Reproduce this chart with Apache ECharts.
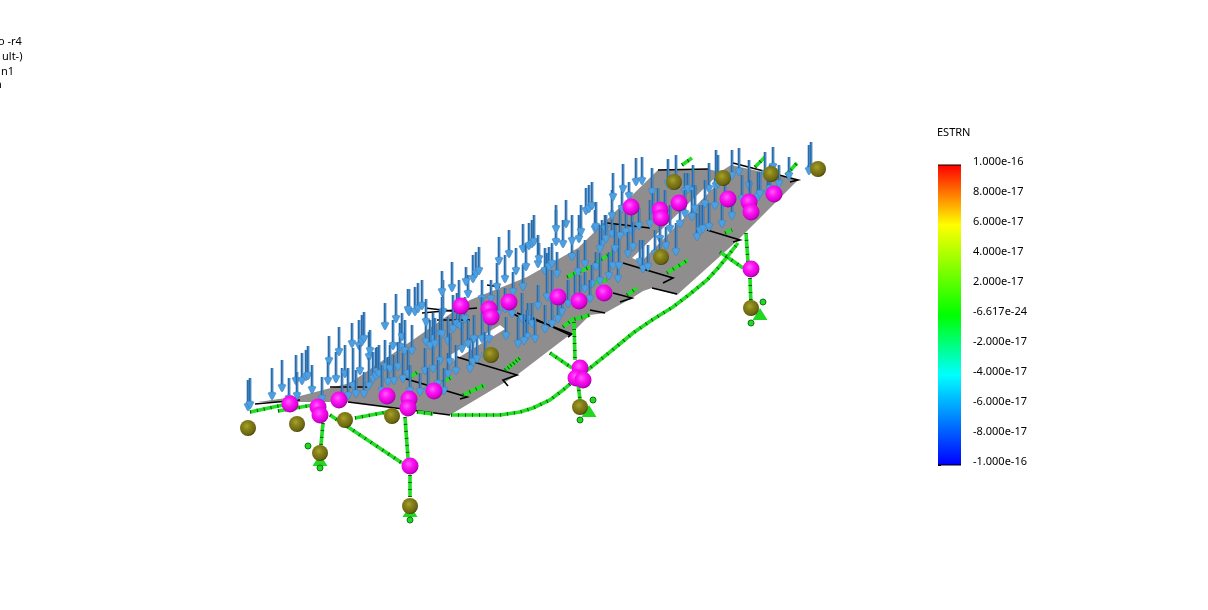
<!DOCTYPE html>
<html><head><meta charset="utf-8">
<style>html,body{margin:0;padding:0;background:#fff}#c{width:1208px;height:610px}</style>
<script src="https://cdn.jsdelivr.net/npm/echarts@6/dist/echarts.min.js"></script>
</head><body><div id="c"></div>
<script>
// Values, in picture units
const plates = [
 [[258,402],[300,396],[350,383],[420,335],[470,300],[527,277],[578,248],[658,170],[708,169],[720,172],[731,165],[798,180],[738,240],[677,295],[652,288],[643,291],[632,298],[605,313],[590,315],[572,333],[517,375],[450,415],[348,402],[300,402]]
];
const slits = [
 [[721,172],[729,172],[641,262],[632,258]],
 [[447,357],[500,325],[505,329],[453,361]]
];
const blackLines = [
 [[255,404],[300,400]],[[348,402],[450,415]],[[330,387],[370,387]],
 [[403,378],[467,397],[460,399]],[[457,357],[517,375],[503,380],[508,386]],
 [[422,313],[477,308]],[[437,320],[470,320]],[[425,308],[460,312]],[[510,312],[530,323]],
 [[487,285],[500,287]],[[517,313],[572,334],[568,337]],[[533,318],[570,335]],
 [[613,293],[632,298],[620,302]],[[590,310],[605,313]],[[623,263],[673,278],[663,283]],
 [[652,288],[677,294]],[[707,230],[740,240],[733,242]],[[658,170],[708,169]],
 [[733,163],[798,180],[790,182]],[[607,223],[650,228]]
];
const greenBeams = [
 [[451,415],[475,415],[500,415],[520,412],[533,408],[550,400],[563,390],[577,378],[590,368],[610,352],[633,333],[652,320],[673,307],[690,294],[707,280],[718,268],[727,257],[738,243]],
 [[574,322],[575,360]],[[563,327],[572,320],[590,315]],[[550,353],[572,368]],[[578,383],[580,400]],
 [[746,233],[748,262]],[[750,278],[751,305]],[[720,252],[743,268]],
 [[405,417],[408,458]],[[410,475],[410,497]],[[330,415],[402,463]],[[323,423],[321,445]],
 [[250,412],[283,405]],[[278,411],[313,405]],[[355,418],[387,412]],[[417,412],[433,414]],
 [[463,395],[485,385]],[[410,377],[418,372]],[[443,382],[452,377]],[[505,370],[520,358]],
 [[627,295],[637,288]],[[667,273],[688,260]],[[508,368],[520,358]],[[593,283],[607,280]],
 [[595,263],[612,253]],[[567,277],[590,267]],[[725,233],[732,230]],[[682,165],[692,158]],
 [[755,167],[765,157]],[[786,175],[797,163]]
];
// x, tip y, top y
const arrows = [
 [248,408,380],[250,406,378],[272,397,368],[282,389,360],[289,400,378],[296,382,355],[297,397,372],[302,382,353],[306,378,350],[308,377,346],[312,391,365],
 [322,400,377],[329,362,336],[328,382,362],[336,380,352],[339,353,327],[342,400,368],[345,375,345],[348,397,368],[352,345,323],[353,387,348],[359,347,320],[362,343,315],[364,340,312],
 [369,358,332],[369,387,358],[370,352,330],[373,380,352],[376,377,348],[377,373,347],[379,375,345],[385,327,303],[385,368,340],[388,383,357],[390,370,345],[393,347,320],[394,382,355],[396,320,294],[400,348,323],[403,380,353],[402,338,313],
 [405,352,320],[408,375,350],[409,313,289],[412,352,325],[415,313,287],[418,310,283],[422,307,280],[420,393,373],[426,343,313],[433,340,313],[433,370,345],[440,335,310],[440,362,335],[443,313,280],[448,342,317],[448,375,353],[450,363,333],[453,330,295],[457,325,293],[460,327,300],
 [408,311,289],[426,323,299],[430,347,320],[435,345,318],[442,293,271],[442,335,297],[452,289,262],[459,305,280],[465,320,297],[468,295,275],[470,370,338],[473,363,337],[477,360,337],[466,283,267],[473,280,255],[476,275,252],[479,272,247],[482,300,280],[482,340,297],[485,357,332],
 [491,300,280],[489,340,313],[497,288,263],[499,262,237],[505,280,255],[509,255,230],[506,337,317],[513,293,272],[516,272,248],[522,320,293],[523,250,224],[523,288,265],[526,268,243],[528,320,303],[529,247,223],[532,245,220],[532,325,303],[534,243,215],[538,265,235],[538,307,285],[527,338,310],[539,260,243],[545,272,248],[547,298,253],[549,268,247],[552,265,243],[552,302,270],[556,243,210],[557,275,252],[562,313,290],[556,230,205],[566,225,200],
 [563,245,220],[572,258,237],[572,242,215],[579,240,215],[578,273,250],[581,233,205],[585,290,272],[586,212,188],[589,210,185],[592,285,265],[592,207,182],[595,230,210],[596,228,202],[596,268,252],[600,282,253],[602,245,220],[605,230,215],[606,240,215],[609,277,252],[612,235,210],[612,217,190],[613,198,173],[613,267,247],[618,280,265],[619,267,237],[620,237,205],[622,210,187],[623,190,164],[626,233,208],[629,197,182],[632,232,207],[636,183,158],[639,227,208],[640,263,240],[642,182,157],[643,270,240],[648,268,245],[652,193,168],[653,213,193],[658,213,188],[660,240,213],[666,247,227],[668,185,159],[670,230,205],[676,253,223],[676,182,155],[685,193,173],[688,190,173],[693,192,165],
 [692,218,190],[697,238,213],[700,232,205],[703,230,205],[709,228,203],[709,190,163],[715,207,178],[716,187,150],[718,185,155],[722,225,198],[732,217,192],[732,177,150],[739,173,148],[749,187,160],[758,198,172],[760,195,172],[765,175,152],[773,168,147],[779,185,165],[789,177,157],[811,170,142],[809,172,145],
 [360,372,345],[356,395,370],[364,395,372],[382,392,365],[398,368,342],[410,392,365],[425,372,348],[428,392,368],[438,385,360],[444,392,368],[456,372,345],[462,350,322],[468,345,320],[474,340,315],[498,315,290],[505,310,288],[512,315,295],[518,345,318],[524,342,315],[535,340,318],[545,330,305],[552,325,300],[558,320,295],[568,305,280],[575,300,275],[585,265,240],[580,300,275],[590,300,280],[600,250,225],[615,250,225],[628,255,232],[633,248,222],[655,255,230],[660,262,238],[650,225,200],[665,215,190],[680,225,205],[685,215,190],[695,210,185],[705,205,180],[725,200,172],[742,200,175],[750,205,180],[768,195,170],[770,190,165]
];
const pinkSpheres = [[290,404],[318,407],[320,415],[339,400],[387,396],[409,399],[408,408],[434,391],[410,466],[461,306],[489,309],[491,317],[509,302],[558,297],[579,301],[604,293],[631,207],[660,210],[661,218],[679,203],[728,199],[749,202],[751,212],[774,194],[751,269],[580,368],[576,378],[583,380]];
const oliveSpheres = [[248,428],[297,424],[320,453],[345,420],[392,416],[410,506],[491,355],[580,407],[661,257],[751,308],[674,182],[723,178],[771,174],[818,169]];
const supportTriangles = [[410,511],[320,460],[589,411],[760,314]];
const supportDots = [[410,520],[320,468],[308,446],[593,400],[580,420],[763,302],[751,323]];
const legendTitle = ['ESTRN'];
const legendTicks = ['1.000e-16','8.000e-17','6.000e-17','4.000e-17','2.000e-17','-6.617e-24','-2.000e-17','-4.000e-17','-6.000e-17','-8.000e-17','-1.000e-16'];
const clippedNotes = ['o -r4','ult-)','n1','n'];

const chart = echarts.init(document.getElementById('c'));
const FONT = '"Noto Sans"';
function sphere(a,b,c,d){return {type:'radial',x:.42,y:.38,r:.62,colorStops:[{offset:0,color:a},{offset:.4,color:b},{offset:.85,color:c},{offset:1,color:d}]};}
function polyRender(list,fill){return (params,api)=>({type:'polygon',shape:{points:list[params.dataIndex].map(p=>api.coord(p))},style:{fill}});}
function arrowRender(params,api){
  const x=api.value(0),tip=api.value(1),top=api.value(2);
  const T=api.coord([x,tip]),A=api.coord([x,top]);
  const ty=T[1]+3;
  return {type:'group',children:[
    {type:'line',shape:{x1:A[0],y1:A[1],x2:T[0],y2:ty-2},style:{stroke:'#2a6aa6',lineWidth:2.6}},
    {type:'line',shape:{x1:A[0]+.6,y1:A[1],x2:T[0]+.6,y2:ty-2},style:{stroke:'#4a90cf',lineWidth:.9}},
    {type:'polygon',shape:{points:[[T[0]-4,ty-7],[T[0]-1.5,ty-8],[T[0]+1.5,ty-8],[T[0]+4,ty-7],[T[0]+1,ty-1],[T[0],ty],[T[0]-1,ty-1]]},style:{fill:'#4c9fe0',stroke:'#3a7db8',lineWidth:.5}}
  ]};
}
chart.setOption({
  animation:false,
  backgroundColor:'#fff',
  grid:[{left:0,top:0,width:1208,height:610},{left:938,top:165,width:23,height:300}],
  xAxis:[
    {type:'value',gridIndex:0,min:0,max:1208,show:false},
    {type:'value',gridIndex:1,min:0,max:1,show:false}
  ],
  yAxis:[
    {type:'value',gridIndex:0,min:0,max:610,inverse:true,show:false},
    {type:'value',gridIndex:1,min:-10,max:10,interval:2,position:'right',
     axisLine:{show:false},splitLine:{show:false},
     axisTick:{show:true,length:3,lineStyle:{color:'#000',width:1}},
     axisLabel:{show:true,margin:12,color:'#000',fontFamily:FONT,fontSize:11,verticalAlign:'bottom',lineHeight:7,
       formatter:v=>legendTicks[Math.round((10-v)/2)]}}
  ],
  graphic:[
    {type:'text',x:937,y:127,style:{text:legendTitle[0],font:'11px '+FONT,fill:'#000'}},
    ...clippedNotes.map((t,i)=>({type:'text',x:[-2,2,1,-5][i],y:[36,51,66,79][i],style:{text:t,font:'11px '+FONT,fill:'#000'}}))
  ],
  series:[
    {type:'custom',xAxisIndex:0,yAxisIndex:0,z:1,silent:true,clip:false,renderItem:polyRender(plates,'#8f8d8e'),
     data:plates.map(p=>p[0]),encode:{x:0,y:1}},
    {type:'custom',xAxisIndex:0,yAxisIndex:0,z:1.5,silent:true,clip:false,renderItem:polyRender(slits,'#ffffff'),
     data:slits.map(p=>p[0]),encode:{x:0,y:1}},
    {type:'lines',coordinateSystem:'cartesian2d',polyline:true,xAxisIndex:0,yAxisIndex:0,z:2,silent:true,
     lineStyle:{color:'#000',width:1.6,opacity:1},data:blackLines.map(c=>({coords:c}))},
    {type:'lines',coordinateSystem:'cartesian2d',polyline:true,xAxisIndex:0,yAxisIndex:0,z:3,silent:true,
     lineStyle:{color:'#21e021',width:3.6,opacity:1},data:greenBeams.map(c=>({coords:c}))},
    {type:'lines',coordinateSystem:'cartesian2d',polyline:true,xAxisIndex:0,yAxisIndex:0,z:4,silent:true,
     lineStyle:{color:'#0b5a10',width:3.6,opacity:1,type:[1,6]},data:greenBeams.map(c=>({coords:c}))},
    {type:'scatter',xAxisIndex:0,yAxisIndex:0,z:5,silent:true,symbol:'triangle',symbolSize:[15,12],
     itemStyle:{color:'#22d622',opacity:1},data:supportTriangles},
    {type:'scatter',xAxisIndex:0,yAxisIndex:0,z:5,silent:true,symbol:'circle',symbolSize:6,
     itemStyle:{color:'#22d622',borderColor:'#0b7a10',borderWidth:1,opacity:1},data:supportDots},
    {type:'custom',xAxisIndex:0,yAxisIndex:0,z:6,silent:true,clip:false,renderItem:arrowRender,
     data:arrows,encode:{x:0,y:1}},
    {type:'scatter',xAxisIndex:0,yAxisIndex:0,z:8,silent:true,symbolSize:16,
     itemStyle:{color:sphere('#a8a22a','#86811a','#6b6610','#454206'),opacity:1},data:oliveSpheres},
    {type:'scatter',xAxisIndex:0,yAxisIndex:0,z:9,silent:true,symbolSize:17,
     itemStyle:{color:sphere('#ff60ff','#ff14f4','#d400d0','#960096'),opacity:1},data:pinkSpheres},
    {type:'custom',xAxisIndex:1,yAxisIndex:1,z:10,silent:true,
     renderItem:(p,api)=>{
       const a=api.coord([0,10]),b=api.coord([1,-10]);
       return {type:'group',children:[
        {type:'rect',shape:{x:a[0],y:a[1],width:b[0]-a[0],height:b[1]-a[1]},
         style:{fill:new echarts.graphic.LinearGradient(0,0,0,1,[
          {offset:0,color:'#ff0000'},{offset:.2,color:'#ffff00'},{offset:.5,color:'#00ff00'},{offset:.7,color:'#00ffff'},{offset:1,color:'#0000ff'}])}},
        {type:'line',shape:{x1:a[0],y1:a[1],x2:b[0],y2:a[1]},style:{stroke:'#000',lineWidth:1}},
        {type:'line',shape:{x1:a[0],y1:b[1],x2:b[0],y2:b[1]},style:{stroke:'#000',lineWidth:1}}
       ]};
     },data:[[0,10]],encode:{x:0,y:1}}
  ]
});
</script></body></html>
